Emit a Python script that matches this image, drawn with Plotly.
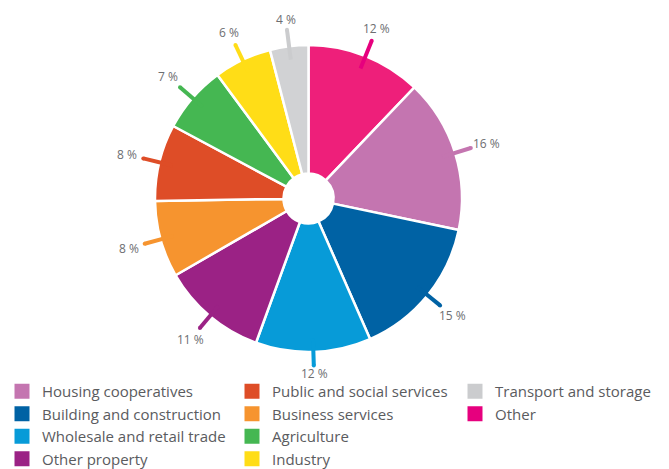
import math
import plotly.graph_objects as go

# Sector shares, clockwise from 12 o'clock
sectors = ["Other", "Housing cooperatives", "Building and construction",
           "Wholesale and retail trade", "Other property", "Business services",
           "Public and social services", "Agriculture", "Industry",
           "Transport and storage"]
shares = [12, 16, 15, 12, 11, 8, 8, 7, 6, 4]
slice_colors = ["#EE1F7A", "#C475B0", "#0062A4", "#079BD8", "#9B2285",
                "#F6942F", "#DE4D27", "#45B752", "#FFDD17", "#D1D2D4"]
mark_colors = ["#E6007E", "#C475B0", "#0062A4", "#079BD8", "#9B2285",
               "#F6942F", "#DE4D27", "#45B752", "#FFDD17", "#CBCCCE"]

# Legend columns (column-major order)
legend_columns = [
    ["Housing cooperatives", "Building and construction",
     "Wholesale and retail trade", "Other property"],
    ["Public and social services", "Business services", "Agriculture", "Industry"],
    ["Transport and storage", "Other"],
]

W, H = 669, 469
CX, CY, R = 308.5, 198.5, 153.5
FONT = "Open Sans"
TEXT_GREY = "#5A5B5E"


def px(x):
    return x / W


def py(y):
    return 1 - y / H


fig = go.Figure()

fig.add_trace(go.Pie(
    labels=sectors, values=shares, sort=False, direction="clockwise",
    rotation=0, hole=0.163, textinfo="none", showlegend=False,
    marker=dict(colors=slice_colors, line=dict(color="white", width=2.5)),
    domain=dict(x=[px(CX - R), px(CX + R)], y=[py(CY + R), py(CY - R)]),
))

# Leader ticks and value labels at each slice's mid angle
total = sum(shares)
shapes, annotations = [], []
cum = 0
for name, v, col in zip(sectors, shares, mark_colors):
    theta = 2 * math.pi * (cum + v / 2) / total
    cum += v
    s, c = math.sin(theta), math.cos(theta)
    r_in = 140
    r_out = 170 - 3 * max(0.0, -c) ** 4
    x0, y0 = CX + r_in * s, CY - r_in * c
    x1, y1 = CX + r_out * s, CY - r_out * c
    shapes.append(dict(type="line", xref="paper", yref="paper",
                       x0=px(x0), y0=py(y0), x1=px(x1), y1=py(y1),
                       line=dict(color=col, width=4), layer="above"))
    shapes.append(dict(type="circle", xref="paper", yref="paper",
                       x0=px(x1 - 2), x1=px(x1 + 2), y0=py(y1 + 2), y1=py(y1 - 2),
                       fillcolor=col, line=dict(width=0), layer="above"))
    r_lab = r_out + 2 + 13 * abs(s) + (7 if c > 0 else 6) * abs(c)
    annotations.append(dict(
        x=px(CX + r_lab * s), y=py(CY - r_lab * c), xref="paper", yref="paper",
        text=f"{v} %", showarrow=False, xanchor="center", yanchor="middle",
        font=dict(family=FONT, size=12, color="#6D6E71")))

# Legend entries as marker-only traces in three vertical legends
color_of = dict(zip(sectors, mark_colors))
legend_ids = ["legend", "legend2", "legend3"]
for lid, column in zip(legend_ids, legend_columns):
    for name in column:
        fig.add_trace(go.Scatter(
            x=[None], y=[None], mode="markers", name=name, legend=lid,
            marker=dict(symbol="square", size=15, color=color_of[name]),
            hoverinfo="skip"))

legend_style = dict(font=dict(family=FONT, size=15, color=TEXT_GREY),
                    bgcolor="rgba(0,0,0,0)", yanchor="top", xanchor="left",
                    orientation="v", tracegroupgap=0)
legend_x = [2, 232, 455]
layout_legends = {}
for lid, lx in zip(legend_ids, legend_x):
    layout_legends[lid] = dict(x=px(lx), y=py(375), **legend_style)

fig.update_layout(
    width=W, height=H,
    margin=dict(l=0, r=0, t=0, b=0, autoexpand=False),
    paper_bgcolor="white", plot_bgcolor="white",
    xaxis=dict(visible=False), yaxis=dict(visible=False),
    shapes=shapes, annotations=annotations, showlegend=True,
    **layout_legends,
)

fig.write_html("out.html")
